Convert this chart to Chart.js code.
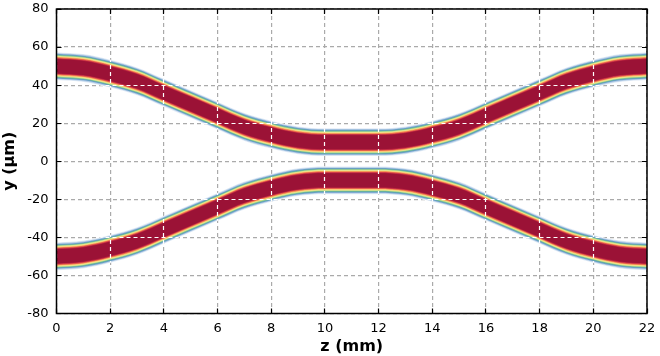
<!DOCTYPE html>
<html>
<head>
<meta charset="utf-8">
<script src="https://cdn.jsdelivr.net/npm/chart.js@4"></script>
<style>
  html, body { margin: 0; padding: 0; background: #fff; }
  #wrap { width: 660px; height: 356px; }
</style>
</head>
<body>
<div id="wrap"><canvas id="chart" width="660" height="356"></canvas></div>
<script>
// z positions (mm) and waveguide centre lines (µm)
const zMm = [0, 1, 2, 3, 4, 5, 6, 7, 8, 9, 10, 11, 12, 13, 14, 15, 16, 17, 18, 19, 20, 21, 22];
const upperCentre = [50, 49, 46, 42, 36, 30, 24, 18, 14, 11, 10, 10, 10, 11, 14, 18, 24, 30, 36, 42, 46, 49, 50];
const lowerCentre = [-50, -49, -46, -42, -36, -30, -24, -18, -14, -11, -10, -10, -10, -11, -14, -18, -24, -30, -36, -42, -46, -49, -50];

// mode profile: half widths (µm) of each colour level, outside in
const halfWidths = [7.3, 6.9, 6.5, 6.1, 5.8, 5.5, 5.2, 4.9, 4.6, 4.3, 4.0, 3.7];
const layerColours = ['#e3ecf7', '#b3cde6', '#6f9fcc', '#5aa7a6', '#8ccb8e', '#cfe58f',
                      '#fbe08a', '#fbb465', '#f07c4a', '#d9434c', '#b6203f', '#9b1236'];

const xTicks = { min: 0, max: 22, step: 2 };
const yTicks = { min: -80, max: 80, step: 20 };

const datasets = [];
// narrowest first so the widest layer is painted underneath
for (const centre of [upperCentre, lowerCentre]) {
  for (let k = halfWidths.length - 1; k >= 0; k--) {
    const h = halfWidths[k];
    datasets.push({
      data: centre.map((c, i) => ({ x: zMm[i], y: c + h })),
      fill: '+1',
      backgroundColor: layerColours[k]
    });
    datasets.push({
      data: centre.map((c, i) => ({ x: zMm[i], y: c - h })),
      fill: false
    });
  }
}
// dataset indexes of the outermost layer of each band (clip for the white grid)
const outerPairs = [2 * halfWidths.length - 2, 4 * halfWidths.length - 2];

const tickFont = { family: 'DejaVu Sans', size: 13 };
const titleFont = { family: 'DejaVu Sans', size: 16, weight: 'bold' };
const align = p => Math.round(p - 0.5) + 0.5;

const overlay = {
  id: 'overlay',
  // grid shows white where it crosses a band
  afterDatasetsDraw(chart) {
    const { ctx, chartArea: a } = chart;
    const xs = chart.scales.x, ys = chart.scales.y;
    outerPairs.forEach(i => {
      const upper = chart.getDatasetMeta(i).dataset;
      const lower = chart.getDatasetMeta(i + 1).dataset;
      ctx.save();
      ctx.beginPath();
      upper.path(ctx);
      ctx.lineTo(a.right + 2, a.bottom + 2);
      ctx.lineTo(a.left - 2, a.bottom + 2);
      ctx.closePath();
      ctx.clip();
      ctx.beginPath();
      lower.path(ctx);
      ctx.lineTo(a.right + 2, a.top - 2);
      ctx.lineTo(a.left - 2, a.top - 2);
      ctx.closePath();
      ctx.clip();
      ctx.strokeStyle = '#ffffff';
      ctx.lineWidth = 1.2;
      ctx.setLineDash([4, 3]);
      ctx.beginPath();
      xs.ticks.forEach(t => {
        const px = align(xs.getPixelForValue(t.value));
        ctx.moveTo(px, a.top); ctx.lineTo(px, a.bottom);
      });
      ys.ticks.forEach(t => {
        const py = align(ys.getPixelForValue(t.value));
        ctx.moveTo(a.left, py); ctx.lineTo(a.right, py);
      });
      ctx.stroke();
      ctx.restore();
    });
  },
  // frame and inward tick marks
  afterDraw(chart) {
    const { ctx, chartArea: a } = chart;
    const xs = chart.scales.x, ys = chart.scales.y;
    ctx.save();
    ctx.strokeStyle = '#000';
    ctx.lineWidth = 1.2;
    ctx.beginPath();
    xs.ticks.forEach(t => {
      const px = align(xs.getPixelForValue(t.value));
      ctx.moveTo(px, a.bottom); ctx.lineTo(px, a.bottom - 5);
      ctx.moveTo(px, a.top); ctx.lineTo(px, a.top + 5);
    });
    ys.ticks.forEach(t => {
      const py = align(ys.getPixelForValue(t.value));
      ctx.moveTo(a.left, py); ctx.lineTo(a.left + 5, py);
      ctx.moveTo(a.right, py); ctx.lineTo(a.right - 5, py);
    });
    ctx.stroke();
    ctx.lineWidth = 1.5;
    ctx.strokeRect(a.left, a.top, a.right - a.left, a.bottom - a.top);
    ctx.restore();
  }
};

new Chart(document.getElementById('chart'), {
  type: 'line',
  data: { datasets: datasets },
  options: {
    responsive: false,
    animation: false,
    layout: { padding: { left: 0, right: 13, top: 9, bottom: 0 } },
    elements: {
      line: { borderWidth: 0, cubicInterpolationMode: 'monotone' },
      point: { radius: 0, hoverRadius: 0 }
    },
    plugins: { legend: { display: false }, tooltip: { enabled: false } },
    scales: {
      x: {
        type: 'linear', position: 'bottom',
        min: xTicks.min, max: xTicks.max,
        ticks: { stepSize: xTicks.step, color: '#000', font: tickFont, padding: 7, maxRotation: 0 },
        grid: { color: '#aaaaaa', lineWidth: 1.2, drawTicks: false },
        border: { display: false, dash: [4, 3] },
        title: { display: true, text: 'z (mm)', color: '#000', font: titleFont, padding: 0 },
        afterFit(s) { s.height = 42.5; s.paddingLeft = 0; s.paddingRight = 0; }
      },
      y: {
        type: 'linear', position: 'left',
        min: yTicks.min, max: yTicks.max,
        ticks: { stepSize: yTicks.step, color: '#000', font: tickFont, padding: 8 },
        grid: { color: '#aaaaaa', lineWidth: 1.2, drawTicks: false },
        border: { display: false, dash: [4, 3] },
        title: { display: true, text: 'y (µm)', color: '#000', font: titleFont, padding: 0 },
        afterFit(s) { s.width = 56.5; s.paddingTop = 0; s.paddingBottom = 0; }
      }
    }
  },
  plugins: [overlay]
});
</script>
</body>
</html>
